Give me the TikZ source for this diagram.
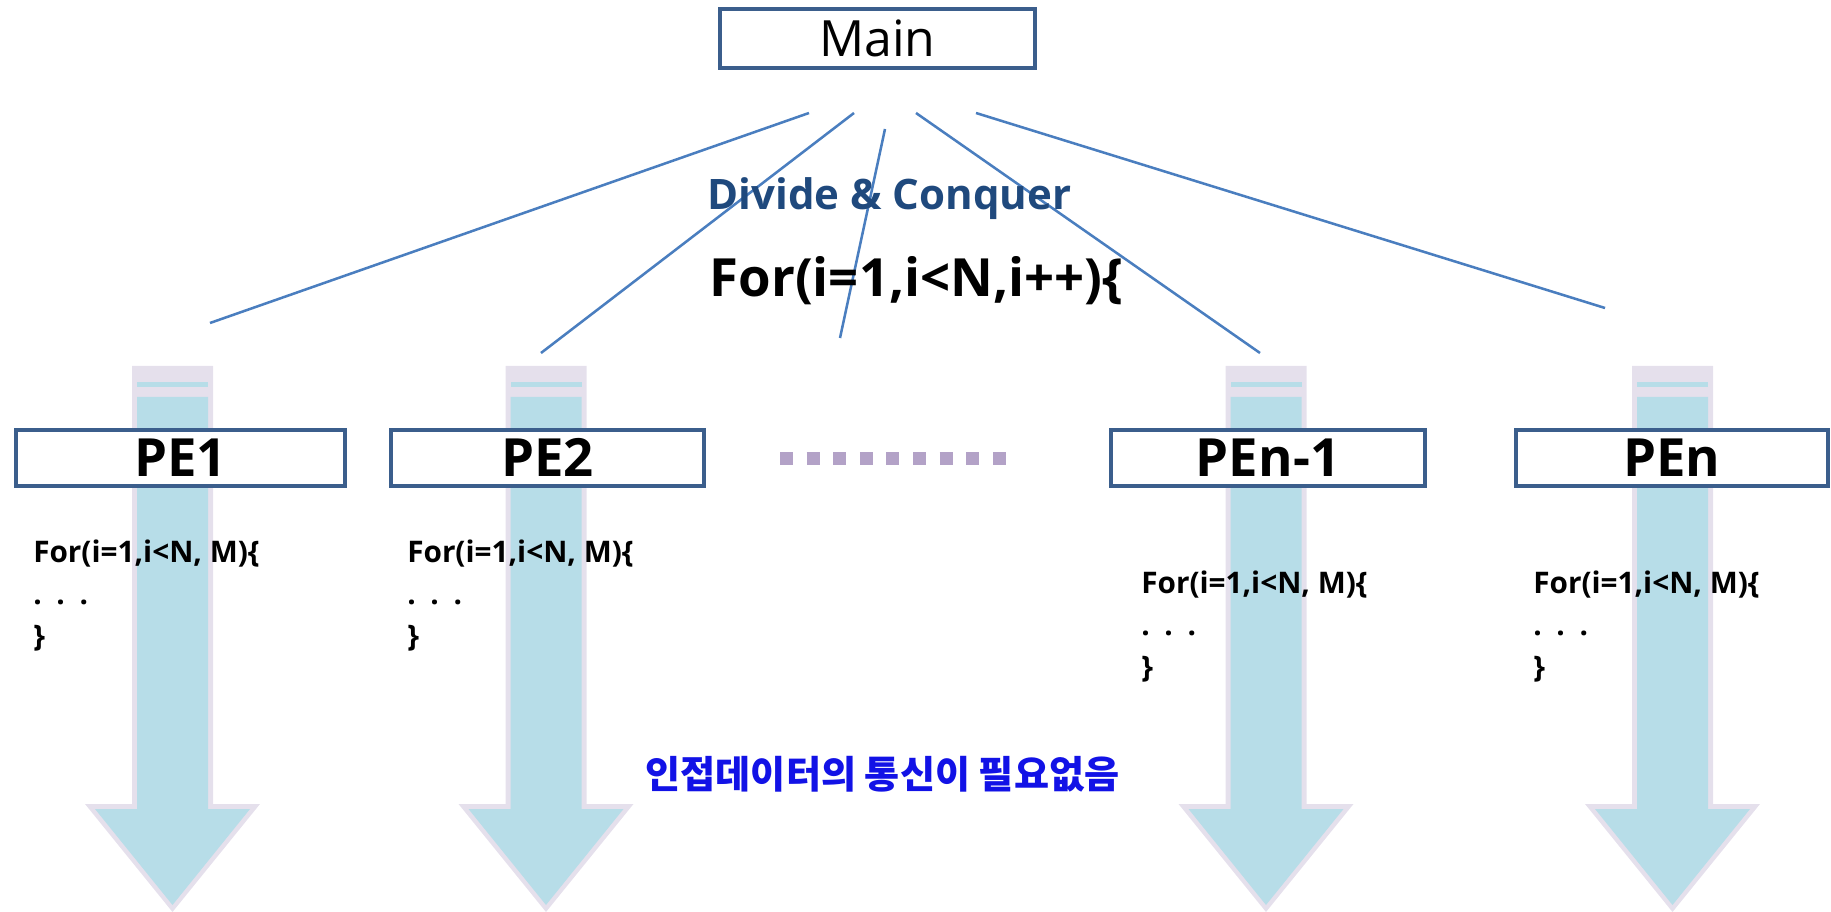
\documentclass[tikz,border=0pt]{standalone}
\usepackage{fontspec}
\setmainfont{Open Sans}
\newfontfamily\krfont{Noto Sans CJK KR}
\definecolor{boxblue}{HTML}{3B5E8C}
\definecolor{linkblue}{HTML}{4A7EBF}
\definecolor{shaftcyan}{HTML}{B7DDE8}
\definecolor{shaftlav}{HTML}{E5E0EC}
\definecolor{dotpurple}{HTML}{B3A2C7}
\definecolor{titleblue}{HTML}{1F497D}
\definecolor{krblue}{HTML}{1212E6}
\tikzset{
  mainbox/.style={draw=boxblue, line width=3pt, fill=white, inner sep=0pt,
    minimum width=236.25pt, minimum height=44.25pt, text height=27pt, text depth=0pt,
    font=\fontsize{37.5pt}{40pt}\selectfont},
  pebox/.style={draw=boxblue, line width=3pt, fill=white, inner sep=0pt,
    minimum height=42pt, text height=27.75pt, text depth=0pt,
    font=\fontsize{39.5pt}{42pt}\selectfont\bfseries},
  subtxt/.style={anchor=base west, inner sep=0pt, font=\fontsize{22.3pt}{26pt}\selectfont\bfseries},
  link/.style={draw=linkblue, line width=1.9pt},
  dotline/.style={draw=dotpurple, line width=9.75pt, dash pattern=on 9.75pt off 10.2pt}
}
\begin{document}
\begin{tikzpicture}[x=0.75pt,y=-0.75pt]
\useasboundingbox (0,0) rectangle (1831,912);
% shaft arrows
\foreach \c in {172.5,546,1266,1672.5}{
  \fill[shaftlav] (\c-40.5,366) -- (\c+40.5,366) -- (\c+40.5,804) -- (\c+87.5,804)
     -- (\c,912) -- (\c-87.5,804) -- (\c-40.5,804) -- cycle;
  \fill[shaftcyan] (\c-35.5,397) -- (\c+35.5,397) -- (\c+35.5,809) -- (\c+77.5,809)
     -- (\c,905) -- (\c-77.5,809) -- (\c-35.5,809) -- cycle;
  \fill[shaftcyan] (\c-35.5,382) rectangle (\c+35.5,387);
}
% main
\node[mainbox] (main) at (877.5,38.5) {Main};
% PE boxes
\node[pebox, minimum width=246.75pt] (pe1) at (180.5,458) {PE1};
\node[pebox, minimum width=234.75pt] (pe2) at (547.5,458) {PE2};
\node[pebox, minimum width=235.5pt] (pen1) at (1268,458) {PEn-1};
\node[pebox, minimum width=234pt] (pen) at (1672,458) {PEn};
% link end points
\coordinate (m1) at (809,113);
\coordinate (m2) at (854,113);
\coordinate (m3) at (885,129);
\coordinate (m4) at (916,113);
\coordinate (m5) at (976,113);
\coordinate (e1) at (210,323);
\coordinate (e2) at (541,353);
\coordinate (e3) at (840,338);
\coordinate (e4) at (1260,353);
\coordinate (e5) at (1605,308);
\draw[link] (m1) -- (e1);
\draw[link] (m2) -- (e2);
\draw[link] (m3) -- (e3);
\draw[link] (m4) -- (e4);
\draw[link] (m5) -- (e5);
% titles
\node[anchor=base, inner sep=0pt, text=titleblue, font=\fontsize{31.5pt}{34pt}\selectfont\bfseries] (dc) at (889.5,210) {Divide \& Conquer};
\node[anchor=base, inner sep=0pt, font=\fontsize{39.5pt}{44pt}\selectfont\bfseries] (loop) at (916.5,297) {For(i=1,i<N,i++)\{};
% dotted separator
\coordinate (d1) at (780,458.5);
\coordinate (d2) at (1007,458.5);
\draw[dotline] (d1) -- (d2);
% sub code
\foreach \nm/\x/\y in {a/33/562, b/407/562, c/1141/593, d/1533/593}{
  \node[subtxt] (\nm1) at (\x,\y) {For(i=1,i<N, M)\{};
  \node[subtxt] (\nm2) at (\x,\y+42) {.\hspace{11pt}.\hspace{11pt}.};
  \node[subtxt] (\nm3) at (\x,\y+84) {\}};
}
% korean note
\node[inner sep=0pt, text=krblue, font=\krfont\fontsize{28.6pt}{32pt}\selectfont\bfseries] (note) at (882.5,774) {인접데이터의 통신이 필요없음};
\end{tikzpicture}
\end{document}
